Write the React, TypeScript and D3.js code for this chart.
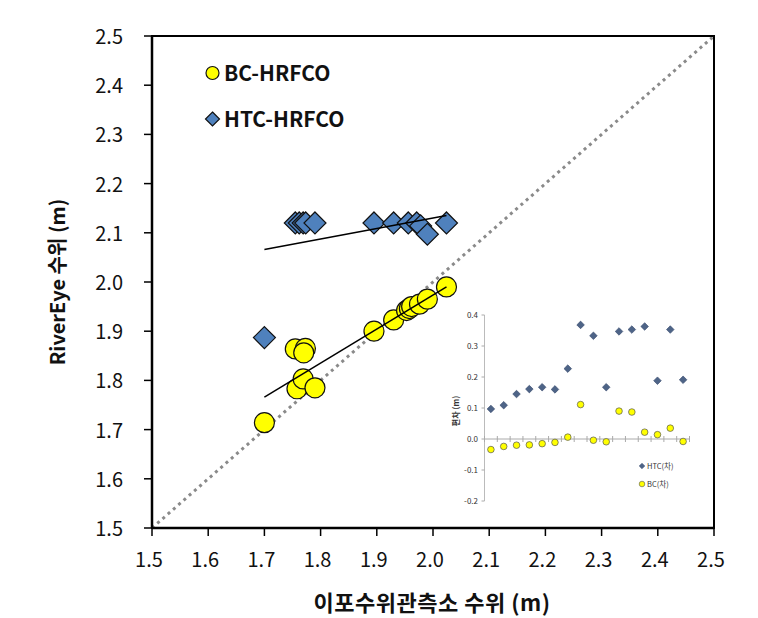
import React from "react";
import * as d3 from "d3";

// ---- Main scatter data ----
const bcX = [1.70, 1.755, 1.773, 1.770, 1.758, 1.769, 1.790, 1.895, 1.930, 1.953, 1.958, 1.962, 1.976, 1.990, 2.024];
const bcY = [1.714, 1.864, 1.865, 1.856, 1.783, 1.803, 1.785, 1.900, 1.923, 1.942, 1.946, 1.950, 1.955, 1.965, 1.990];

const htcX = [1.70, 1.755, 1.762, 1.769, 1.7735, 1.790, 1.895, 1.930, 1.956, 1.971, 1.978, 1.990, 2.024];
const htcY = [1.887, 2.12, 2.12, 2.12, 2.12, 2.12, 2.12, 2.12, 2.12, 2.12, 2.114, 2.097, 2.12];

const bcTrend = [[1.70, 1.766], [2.024, 1.990]];
const htcTrend = [[1.70, 2.066], [2.024, 2.135]];
const oneToOne = [[1.5, 1.5], [2.5, 2.5]];

const mainTicks = [1.5, 1.6, 1.7, 1.8, 1.9, 2.0, 2.1, 2.2, 2.3, 2.4, 2.5];

// ---- Inset (deviation) data ----
const insetIndex = d3.range(16);
const htcDev = [0.097, 0.109, 0.145, 0.161, 0.167, 0.160, 0.227, 0.368, 0.333, 0.167, 0.347, 0.353, 0.363, 0.188, 0.353, 0.191];
const bcDev = [-0.034, -0.024, -0.020, -0.019, -0.015, -0.011, 0.006, 0.111, -0.004, -0.009, 0.090, 0.087, 0.022, 0.014, 0.035, -0.008];
const insetTicks = [0.4, 0.3, 0.2, 0.1, 0.0, -0.1, -0.2];

const FONT = "'Noto Sans CJK KR', 'Noto Sans', sans-serif";

function diamond(cx: number, cy: number, r: number) {
  return `M${cx},${cy - r}L${cx + r},${cy}L${cx},${cy + r}L${cx - r},${cy}Z`;
}

export default function App() {
  const x = d3.scaleLinear().domain([1.5, 2.5]).range([152, 714]);
  const y = d3.scaleLinear().domain([1.5, 2.5]).range([528, 36]);

  const ix = d3.scaleBand<number>().domain(insetIndex).range([484.5, 689.5]);
  const iy = d3.scaleLinear().domain([-0.2, 0.4]).range([501, 315]);

  const line = d3.line<number[]>().x((d) => x(d[0])).y((d) => y(d[1]));

  return (
    <svg width={758} height={618} style={{ position: "absolute", left: 0, top: 0, background: "#fff" }} fontFamily={FONT}>
      {/* 1:1 line */}
      <path d={line(oneToOne) || ""} stroke="#8a8a8a" strokeWidth={3} strokeDasharray="3 4" fill="none" />

      {/* frame */}
      <rect x={152} y={36} width={562} height={492} fill="none" stroke="#000" strokeWidth={2} />
      <line x1={152} x2={152} y1={36} y2={528} stroke="#000" strokeWidth={2.5} />
      <line x1={152} x2={714} y1={528} y2={528} stroke="#000" strokeWidth={2.5} />

      {/* ticks */}
      {mainTicks.map((t) => (
        <g key={"yt" + t}>
          <line x1={144} x2={152} y1={y(t)} y2={y(t)} stroke="#000" strokeWidth={1.5} />
          <text x={123} y={y(t) + 8} fontSize={20} textAnchor="end" fill="#111">{t.toFixed(1)}</text>
        </g>
      ))}
      {mainTicks.map((t) => (
        <g key={"xt" + t}>
          <line x1={x(t)} x2={x(t)} y1={528} y2={536} stroke="#000" strokeWidth={1.5} />
          <text x={x(t) - 3} y={567} fontSize={20} textAnchor="middle" fill="#111">{t.toFixed(1)}</text>
        </g>
      ))}

      {/* axis titles */}
      <text x={432} y={611} fontSize={22} fontWeight="bold" textAnchor="middle" fill="#111" letterSpacing={0.5}>이포수위관측소 수위 (m)</text>
      <text transform={`translate(65,282) rotate(-90)`} fontSize={20} fontWeight="bold" textAnchor="middle" fill="#111">RiverEye 수위 (m)</text>

      {/* HTC points */}
      {htcX.map((v, i) => (
        <path key={"h" + i} d={diamond(x(v), y(htcY[i]), 11)} fill="#4F81BD" stroke="#111" strokeWidth={1.2} />
      ))}
      {/* BC points */}
      {bcX.map((v, i) => (
        <circle key={"b" + i} cx={x(v)} cy={y(bcY[i])} r={10} fill="#FFFF00" stroke="#111" strokeWidth={1.2} />
      ))}

      {/* trend lines */}
      <path d={line(htcTrend) || ""} stroke="#000" strokeWidth={1.5} fill="none" />
      <path d={line(bcTrend) || ""} stroke="#000" strokeWidth={1.5} fill="none" />

      {/* main legend */}
      <circle cx={212.5} cy={73} r={6.5} fill="#FFFF00" stroke="#111" strokeWidth={1.2} />
      <text x={224} y={80.5} fontSize={21} fontWeight="bold" fill="#111">BC-HRFCO</text>
      <path d={diamond(212.5, 119, 7)} fill="#4F81BD" stroke="#111" strokeWidth={1.2} />
      <text x={224} y={126.5} fontSize={21} fontWeight="bold" fill="#111">HTC-HRFCO</text>

      {/* ---- Inset ---- */}
      <line x1={484.5} x2={484.5} y1={315} y2={501} stroke="#bbb" strokeWidth={1} />
      {insetTicks.map((t) => (
        <g key={"it" + t}>
          <line x1={481.5} x2={484.5} y1={iy(t)} y2={iy(t)} stroke="#aaa" strokeWidth={1} />
          <text x={478} y={iy(t) + 3} fontSize={8} textAnchor="end" fill="#333">{t.toFixed(1)}</text>
        </g>
      ))}
      <line x1={484.5} x2={689.5} y1={iy(0)} y2={iy(0)} stroke="#aaa" strokeWidth={1} />
      {d3.range(17).map((i) => {
        const px = 484.5 + i * ix.step();
        return <line key={"ixt" + i} x1={px} x2={px} y1={iy(0) - 3} y2={iy(0) + 3} stroke="#aaa" strokeWidth={1} />;
      })}
      <text transform={`translate(459,411) rotate(-90)`} fontSize={8} fontWeight="bold" textAnchor="middle" fill="#333">편차 (m)</text>

      {htcDev.map((v, i) => (
        <path key={"hd" + i} d={diamond((ix(i) as number) + ix.bandwidth() / 2, iy(v), 3.8)} fill="#4E6487" stroke="#34466a" strokeWidth={0.6} />
      ))}
      {bcDev.map((v, i) => (
        <circle key={"bd" + i} cx={(ix(i) as number) + ix.bandwidth() / 2} cy={iy(v)} r={3.3} fill="#FFFF00" stroke="#555" strokeWidth={0.7} />
      ))}

      {/* inset legend */}
      <path d={diamond(642, 466, 2.8)} fill="#4E6487" stroke="#34466a" strokeWidth={0.5} />
      <text x={647} y={469} fontSize={7.5} fill="#333">HTC(차)</text>
      <circle cx={642} cy={484} r={2.8} fill="#FFFF00" stroke="#555" strokeWidth={0.6} />
      <text x={647} y={487} fontSize={7.5} fill="#333">BC(차)</text>
    </svg>
  );
}
